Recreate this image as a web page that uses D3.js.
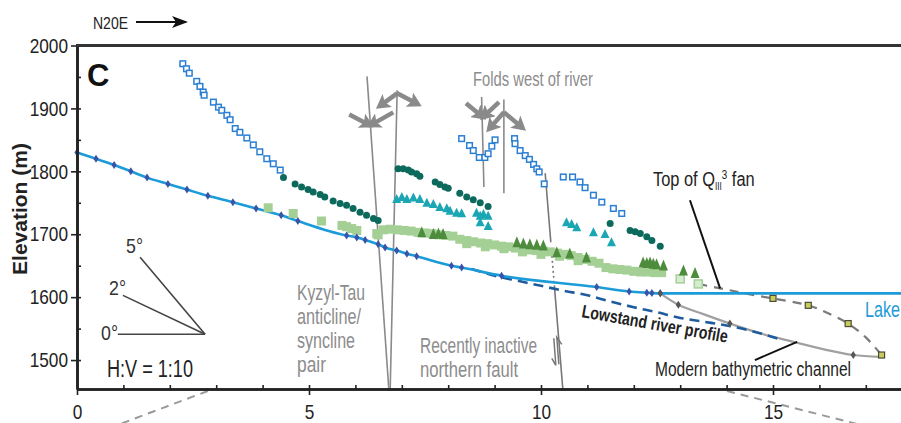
<!DOCTYPE html>
<html>
<head>
<meta charset="utf-8">
<script src="https://cdn.jsdelivr.net/npm/d3@7"></script>
<style>
body { margin: 0; background: #fff; }
svg { display: block; }
</style>
</head>
<body>
<svg id="chart" width="901" height="423"></svg>
<script>
// profile along N20E, distance (km) vs elevation (m)

var xTicks = [0, 5, 10, 15]
var yTicks = [1500, 1600, 1700, 1800, 1900, 2000]

// modern river profile (line + diamonds)
var modernProfile = [[0,1830],[0.41,1820],[0.80,1810],[1.16,1800],[1.51,1790],[1.96,1780],[2.37,1771],
  [2.82,1761],[3.36,1751],[3.86,1741],[4.40,1730],[4.76,1721],[5.81,1698],[6.03,1695],[6.21,1691],
  [6.49,1684],[6.64,1679],[6.89,1674],[7.11,1669],[7.32,1665],[8.07,1650],[8.29,1647],[9.15,1634],
  [11.2,1616],[11.9,1609],[12.28,1607],[12.39,1606.5],[12.57,1606]]
var lakeLevel = 1606
var lakeEnd = 18

var lowstand = [[8.5,1645],[9.0,1634],[9.5,1626],[10.0,1618],[10.5,1610],[11.0,1603],[11.5,1593],
  [12.0,1584],[12.5,1576],[13.0,1567],[13.5,1561],[14.0,1555],[14.5,1547],[15.15,1533]]

var bathy = [[12.57,1606],[12.96,1588],[13.5,1573],[14.07,1558],[14.7,1543],[15.44,1529],
  [16.1,1517],[16.73,1508],[17.3,1505]]
var bathyMarks = [[12.57,1606],[12.96,1588],[14.07,1558],[16.73,1508]]

var fanTop = [[13.39,1621],[13.86,1614],[14.2,1609],[14.6,1603],[15.0,1598],[15.76,1587],
  [16.2,1574],[16.62,1558],[17.0,1536],[17.34,1508]]
var fanMarks = [[15.0,1598],[15.76,1587],[16.62,1558],[17.34,1508]]

var blueSquares = [[2.28,1971],[2.36,1963],[2.42,1956],[2.58,1943],[2.65,1935],[2.72,1926],[2.74,1921],
  [2.94,1910],[3.05,1902],[3.12,1897],[3.23,1889],[3.30,1882],[3.41,1868],[3.51,1862],[3.66,1853],
  [3.80,1842],[3.94,1831],[4.09,1820],[4.23,1812],[4.38,1802],
  [8.29,1852],[8.46,1841],[8.54,1833],[8.67,1822],[8.79,1822],[8.86,1828],[8.94,1840],[9.01,1850],
  [9.43,1852],[9.44,1844],[9.55,1833],[9.66,1825],[9.75,1819],[9.84,1811],[9.91,1804],[9.96,1799],
  [10.07,1780],[10.48,1791],[10.68,1791],[10.84,1783],[10.95,1774],[11.13,1762],[11.31,1751],
  [11.56,1741],[11.74,1733]]

var tealCircles = [[4.45,1790],[4.70,1780],[4.84,1775],[4.98,1771],[5.09,1767],[5.24,1763],[5.34,1759],
  [5.52,1753],[5.67,1749],[5.81,1746],[5.95,1741],[6.10,1735],[6.24,1730],[6.39,1725],[6.49,1722],
  [6.92,1804],[7.03,1804],[7.14,1802],[7.21,1799],[7.32,1796],[7.39,1792],
  [7.72,1783],[7.82,1779],[7.93,1775],[8.00,1773],
  [8.25,1765],[8.40,1759],[8.54,1755],[8.69,1750],[8.86,1744],
  [11.49,1717],[11.92,1706],[12.03,1704],[12.14,1701],[12.28,1696],[12.39,1690],[12.57,1681]]

var tealTriangles = [[6.89,1757],[7.00,1760],[7.11,1757],[7.25,1759],[7.39,1757],[7.54,1751],[7.68,1749],
  [7.82,1744],[7.97,1742],[8.04,1738],[8.18,1735],[8.29,1734],
  [8.61,1735],[8.69,1730],[8.76,1733],[8.86,1730],[8.69,1720],[8.86,1714],
  [10.55,1720],[10.66,1717],[10.77,1712],[11.13,1704],[11.38,1701],[11.52,1688]]

var lightGreenSquares = [[4.12,1742],[4.66,1733],[5.27,1721],[5.71,1714],[5.81,1712],[5.92,1709],
  [6.03,1706],[6.46,1701],[6.49,1699],
  [6.60,1707],[6.75,1708],[6.90,1707],[7.05,1706],[7.20,1705],[7.35,1703],[7.50,1702],[7.65,1701],
  [7.80,1699],[7.95,1698],[8.10,1697],
  [8.25,1692],[8.40,1690],[8.55,1688],[8.70,1686],[8.85,1685],[9.00,1683],[9.15,1681],[9.30,1680],
  [9.45,1678],[9.60,1677],[9.75,1675],[9.90,1674],[10.05,1673],[10.20,1672],[10.35,1670],[10.50,1668],
  [10.65,1666],[10.80,1663],[10.95,1660],[11.10,1657],[11.25,1654],
  [8.40,1685],[8.80,1680],[9.20,1677],[9.60,1672],[10.00,1668],[10.40,1665],[10.80,1658],
  [11.40,1647],[11.55,1645],[11.70,1644],[11.85,1643],[12.00,1641],[12.15,1640],[12.30,1640],
  [12.45,1639],[12.60,1639]]
var paleSquares = [[13.0,1629],[13.39,1621]]

var darkGreenTriangles = [[7.43,1704],[7.68,1701],[7.79,1702],[7.89,1701],
  [9.48,1688],[9.62,1686],[9.76,1685],[9.91,1684],[10.05,1683],[10.34,1672],[10.62,1670],[10.98,1664],
  [12.2,1656],[12.28,1655],[12.35,1656],[12.42,1654],[12.49,1653],[12.64,1651],[13.07,1643],[13.32,1639]]

// structures (km, m)
var foldLines = [[[6.25,1951],[6.72,1454]], [[6.90,1929],[6.75,1454]],
  [[8.72,1918],[8.77,1775]], [[9.20,1914],[9.20,1765]]]
var foldArrows = [
  {at: [6.32,1873], type: "syn", arms: [[-21,-11],[23,-13]]},
  {at: [6.90,1924], type: "anti", arms: [[-18,13],[21,11]]},
  {at: [8.75,1886], type: "syn", arms: [[-17,-14],[16,-15]]},
  {at: [9.20,1894], type: "anti", arms: [[-15,17],[19,16]]}
]
var fault = [[10.09,1797],[10.47,1454]]

var FONT = "'Liberation Sans',Arial,sans-serif"
var GREY = "#8c8c8c"

var svg = d3.select("#chart")

var x = d3.scaleLinear().domain([0, 18]).range([77, 77 + 18 * 46.4])
var y = d3.scaleLinear().domain([1454, 2000]).range([389, 45.5])

var px = function(d){ return x(d[0]) }
var py = function(d){ return y(d[1]) }

// squeeze a text to a narrow face
var narrow = function(sel, k){
  sel.each(function(){
    var w = this.getComputedTextLength()
    d3.select(this).attr("textLength", w * k).attr("lengthAdjust", "spacingAndGlyphs")
  })
}

var defs = svg.append("defs")
defs.append("marker").attr("id", "foldHead")
  .attr("markerUnits", "userSpaceOnUse")
  .attr("markerWidth", 16).attr("markerHeight", 16)
  .attr("refX", 10).attr("refY", 8).attr("orient", "auto")
  .append("path").attr("d", "M0,0 L14,8 L0,16 L3,8 Z").attr("fill", "#8a8a8a")
defs.append("marker").attr("id", "blackHead")
  .attr("markerUnits", "userSpaceOnUse")
  .attr("markerWidth", 16).attr("markerHeight", 12)
  .attr("refX", 14).attr("refY", 6).attr("orient", "auto")
  .append("path").attr("d", "M0,0 L16,6 L0,12 L4,6 Z").attr("fill", "#111")

// connector dashes below the axis
svg.append("line").attr("x1", x(2.82)).attr("y1", 391).attr("x2", x(0.93)).attr("y2", 424)
  .attr("stroke", "#9a9a9a").attr("stroke-width", 2).attr("stroke-dasharray", "8,6")
svg.append("line").attr("x1", x(14.01)).attr("y1", 391).attr("x2", x(16.81)).attr("y2", 424)
  .attr("stroke", "#9a9a9a").attr("stroke-width", 2).attr("stroke-dasharray", "8,6")

// slope key, real angles in km/m space
var vtx = [2.76, 1541]
var slopes = [{deg: 0, run: 1.88}, {deg: 2, run: 1.77}, {deg: 5, run: 1.40}]
slopes.forEach(function(s){
  var rise = s.run * 1000 * Math.tan(s.deg * Math.PI / 180)
  svg.append("line")
    .attr("x1", x(vtx[0])).attr("y1", y(vtx[1]))
    .attr("x2", x(vtx[0] - s.run)).attr("y2", y(vtx[1] + rise))
    .attr("stroke", "#444").attr("stroke-width", 1.6)
})

// fold axes
foldLines.forEach(function(l){
  svg.append("line").attr("x1", px(l[0])).attr("y1", py(l[0])).attr("x2", px(l[1])).attr("y2", py(l[1]))
    .attr("stroke", "#8a8a8a").attr("stroke-width", 1.6)
})
foldArrows.forEach(function(f){
  var cx = px(f.at), cy = py(f.at)
  f.arms.forEach(function(a){
    var from = f.type == "syn" ? [cx + a[0], cy + a[1]] : [cx, cy]
    var to = f.type == "syn" ? [cx, cy] : [cx + a[0], cy + a[1]]
    svg.append("line").attr("x1", from[0]).attr("y1", from[1]).attr("x2", to[0]).attr("y2", to[1])
      .attr("stroke", "#8a8a8a").attr("stroke-width", 4.5).attr("marker-end", "url(#foldHead)")
  })
})

// fault, broken where it crosses the data
var faultAt = function(t){
  return [x(fault[0][0] + t * (fault[1][0] - fault[0][0])), y(fault[0][1] + t * (fault[1][1] - fault[0][1]))]
}
;[[0, 0.32, null], [0.36, 0.5, "2,3"], [0.52, 1, null]].forEach(function(s){
  var a = faultAt(s[0]), b = faultAt(s[1])
  svg.append("line").attr("x1", a[0]).attr("y1", a[1]).attr("x2", b[0]).attr("y2", b[1])
    .attr("stroke", "#777").attr("stroke-width", 1.6).attr("stroke-dasharray", s[2])
})
var fp = faultAt(0.83)
svg.append("path")
  .attr("d", "M" + (fp[0] - 6) + "," + (fp[1] - 14) + " L" + (fp[0] - 4) + "," + (fp[1] + 13) +
    " L" + (fp[0] - 8) + "," + (fp[1] + 6))
  .attr("fill", "none").attr("stroke", "#777").attr("stroke-width", 1.5)
svg.append("path")
  .attr("d", "M" + (fp[0] - 1) + "," + (fp[1] + 12) + " L" + (fp[0] - 3) + "," + (fp[1] - 15) +
    " L" + (fp[0] + 2) + "," + (fp[1] - 8))
  .attr("fill", "none").attr("stroke", "#777").attr("stroke-width", 1.5)

// lines
var line = d3.line().x(px).y(py).curve(d3.curveMonotoneX)
var lineC = d3.line().x(px).y(py).curve(d3.curveCatmullRom)

svg.append("path").datum(fanTop).attr("d", lineC)
  .attr("fill", "none").attr("stroke", "#7a7a7a").attr("stroke-width", 2.2).attr("stroke-dasharray", "9,7")
svg.append("path").datum(bathy).attr("d", lineC)
  .attr("fill", "none").attr("stroke", "#a0a0a0").attr("stroke-width", 2.2)
svg.append("path").datum(lowstand).attr("d", line)
  .attr("fill", "none").attr("stroke", "#1f5c9e").attr("stroke-width", 2.6).attr("stroke-dasharray", "10,6")
svg.append("path").datum(modernProfile.concat([[lakeEnd, lakeLevel]])).attr("d", line)
  .attr("fill", "none").attr("stroke", "#1b9bd8").attr("stroke-width", 2.6)

// scatter
svg.append("g").selectAll("rect").data(lightGreenSquares).enter().append("rect")
  .attr("x", function(d){ return px(d) - 4.5 }).attr("y", function(d){ return py(d) - 4.5 })
  .attr("width", 9).attr("height", 9).attr("fill", "#a4d095")
svg.append("g").selectAll("rect").data(paleSquares).enter().append("rect")
  .attr("x", function(d){ return px(d) - 4 }).attr("y", function(d){ return py(d) - 4 })
  .attr("width", 8).attr("height", 8).attr("fill", "#d6ecd0").attr("stroke", "#a4d095").attr("stroke-width", 1.5)

var tri = function(w, h){ return "M0," + (-h / 2) + " L" + (w / 2) + "," + (h / 2) + " L" + (-w / 2) + "," + (h / 2) + " Z" }
svg.append("g").selectAll("path").data(darkGreenTriangles).enter().append("path")
  .attr("transform", function(d){ return "translate(" + px(d) + "," + py(d) + ")" })
  .attr("d", tri(9, 11)).attr("fill", "#4d8c3c")
svg.append("g").selectAll("path").data(tealTriangles).enter().append("path")
  .attr("transform", function(d){ return "translate(" + px(d) + "," + py(d) + ")" })
  .attr("d", tri(9, 9)).attr("fill", "#1ba6b4")
svg.append("g").selectAll("circle").data(tealCircles).enter().append("circle")
  .attr("cx", px).attr("cy", py).attr("r", 3.5).attr("fill", "#0c6a5c")
svg.append("g").selectAll("rect").data(blueSquares).enter().append("rect")
  .attr("x", function(d){ return px(d) - 2.8 }).attr("y", function(d){ return py(d) - 2.8 })
  .attr("width", 5.6).attr("height", 5.6).attr("fill", "#fff").attr("stroke", "#2b7fd2").attr("stroke-width", 1.5)

var diamond = "M0,-4 L2.6,0 L0,4 L-2.6,0 Z"
svg.append("g").selectAll("path").data(modernProfile).enter().append("path")
  .attr("transform", function(d){ return "translate(" + px(d) + "," + py(d) + ")" })
  .attr("d", diamond).attr("fill", "#3a52a8")
svg.append("g").selectAll("path").data(bathyMarks).enter().append("path")
  .attr("transform", function(d){ return "translate(" + px(d) + "," + py(d) + ")" })
  .attr("d", diamond).attr("fill", "#555")
svg.append("g").selectAll("rect").data(fanMarks).enter().append("rect")
  .attr("x", function(d){ return px(d) - 3 }).attr("y", function(d){ return py(d) - 3 })
  .attr("width", 6).attr("height", 6).attr("fill", "#c9cc5a").attr("stroke", "#4a4a3a").attr("stroke-width", 1.2)

// leaders
svg.append("line").attr("x1", x(13.21)).attr("y1", y(1754)).attr("x2", x(13.86)).attr("y2", y(1614))
  .attr("stroke", "#111").attr("stroke-width", 2)
svg.append("line").attr("x1", x(14.61)).attr("y1", y(1500)).attr("x2", x(15.52)).attr("y2", y(1529))
  .attr("stroke", "#111").attr("stroke-width", 2)

// axes
var yAxis = d3.axisLeft(y).tickValues(yTicks).tickFormat(d3.format("d")).tickSize(6).tickSizeOuter(0).tickPadding(3)
svg.append("g").attr("transform", "translate(" + x(0) + ",0)").call(yAxis)
var xAxis = d3.axisBottom(x).tickValues(xTicks).tickFormat(d3.format("d")).tickSize(6).tickSizeOuter(0).tickPadding(9)
svg.append("g").attr("transform", "translate(0," + y(1454) + ")").call(xAxis)
svg.append("g").attr("transform", "translate(" + x(0) + ",0)")
  .call(d3.axisRight(y).tickValues(d3.range(1500, 2000, 50)).tickSize(4).tickSizeOuter(0).tickFormat(""))
svg.append("g").attr("transform", "translate(0," + y(1454) + ")")
  .call(d3.axisTop(x).tickValues(d3.range(1, 18, 1)).tickSize(4).tickSizeOuter(0).tickFormat(""))
svg.selectAll(".domain").attr("stroke", "#222").attr("stroke-width", 2.6)
svg.selectAll(".tick line").attr("stroke", "#222").attr("stroke-width", 1.6)
svg.selectAll(".tick text").attr("font-family", FONT).attr("font-size", 21).attr("fill", "#222")
narrow(svg.selectAll(".tick text"), 0.82)
svg.append("line").attr("x1", x(0) - 1).attr("x2", 901).attr("y1", y(2000)).attr("y2", y(2000))
  .attr("stroke", "#333").attr("stroke-width", 2.8)

// text
var label = function(tx, ty, s, size, fill, weight, len){
  var t = svg.append("text").attr("x", tx).attr("y", ty).text(s)
    .attr("font-family", FONT).attr("font-size", size).attr("fill", fill || "#222")
    .attr("font-weight", weight || "normal")
  if (len) t.attr("textLength", len).attr("lengthAdjust", "spacingAndGlyphs")
  return t
}

label(126, 253, "5°", 21, "#333", null, 17)
label(109, 295, "2°", 21, "#333", null, 17)
label(101, 340, "0°", 21, "#333", null, 17)

label(93, 29, "N20E", 17, "#222", null, 35)
svg.append("line").attr("x1", 136).attr("y1", 22).attr("x2", 186).attr("y2", 22)
  .attr("stroke", "#111").attr("stroke-width", 2).attr("marker-end", "url(#blackHead)")
label(87, 86, "C", 31, "#111", "bold")
svg.append("text").attr("transform", "translate(27,209) rotate(-90)").attr("text-anchor", "middle")
  .text("Elevation (m)").attr("font-family", FONT)
  .attr("font-weight", "bold").attr("font-size", 21).attr("fill", "#222")

label(107, 377, "H:V = 1:10", 23, "#222", null, 86)
label(473, 86, "Folds west of river", 20, GREY, null, 120)
label(297, 300, "Kyzyl-Tau", 22, GREY, null, 68)
label(297, 324, "anticline/", 22, GREY, null, 64)
label(297, 348, "syncline", 22, GREY, null, 58)
label(297, 372, "pair", 22, GREY, null, 29)
label(420, 353, "Recently inactive", 22, GREY, null, 117)
label(420, 377, "northern fault", 22, GREY, null, 98)
label(655, 376, "Modern bathymetric channel", 20, "#222", null, 196)
label(865, 317, "Lake", 22, "#1b9bd8", null, 35)
label(0, 0, "Lowstand river profile", 18, "#222", "bold", 148)
  .attr("transform", "translate(581,317) rotate(10)")

var qt = svg.append("text").attr("x", 653).attr("y", 186)
  .attr("font-family", FONT).attr("font-size", 20).attr("fill", "#222")
qt.append("tspan").text("Top of Q")
qt.append("tspan").attr("dy", 4).attr("font-size", 10).text("III")
qt.append("tspan").attr("dy", -11).attr("font-size", 12).text("3")
qt.append("tspan").attr("dy", 7).text(" fan")
narrow(qt, 0.82)
</script>
</body>
</html>
